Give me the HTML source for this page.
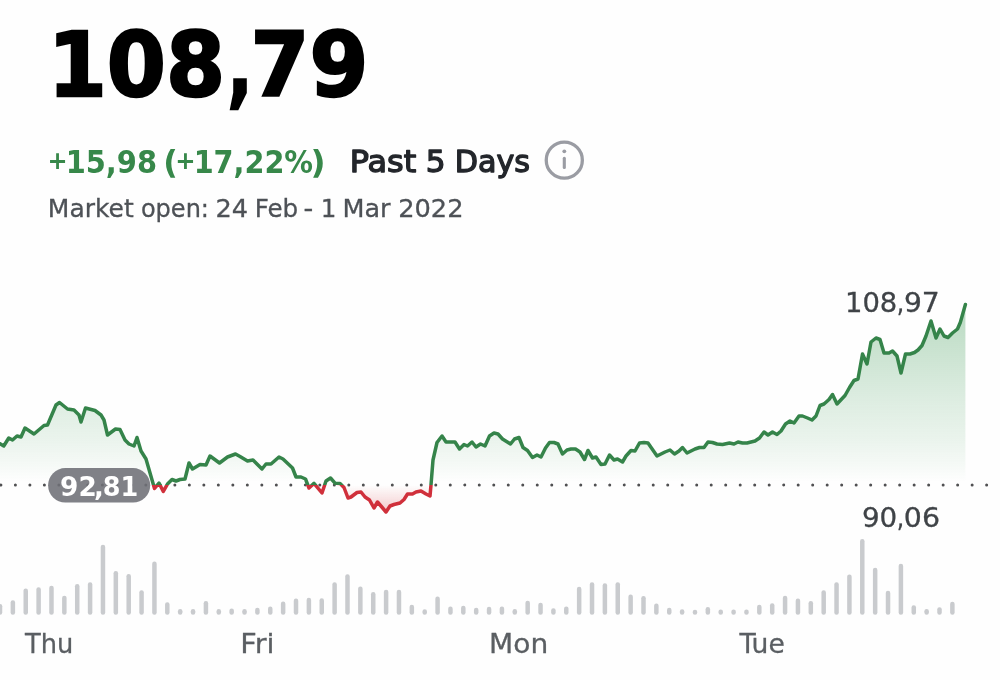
<!DOCTYPE html>
<html lang="en">
<head>
<meta charset="utf-8">
<title>108,79</title>
<style>
html,body{margin:0;padding:0;background:#fefefe;}
body{width:1000px;height:680px;overflow:hidden;position:relative;font-family:"DejaVu Sans","Liberation Sans",sans-serif;}
svg{position:absolute;left:0;top:0;display:block;filter:blur(0.45px);}
text{font-family:"DejaVu Sans","Liberation Sans",sans-serif;}
.price{font-weight:700;font-size:89.6px;fill:#000;stroke:#000;stroke-width:2.4px;stroke-linejoin:miter;}
.chg{font-weight:700;font-size:32px;fill:#37884a;}
.per{font-weight:400;font-size:30.6px;fill:#23262b;stroke:#23262b;stroke-width:1.35px;stroke-linejoin:round;}
.mkt{font-size:24.3px;fill:#4d5156;stroke:#4d5156;stroke-width:0.3px;}
.lbl{font-size:27.3px;fill:#3f4347;stroke:#3f4347;stroke-width:0.3px;}
.day{font-size:27px;fill:#5a5e62;stroke:#5a5e62;stroke-width:0.3px;}
.badge{font-weight:700;font-size:27.1px;fill:#fff;}
</style>
</head>
<body>
<svg width="1000" height="680" viewBox="0 0 1000 680">
<defs>
<linearGradient id="gup" gradientUnits="userSpaceOnUse" x1="0" y1="305" x2="0" y2="486">
<stop offset="0" stop-color="#37964f" stop-opacity="0.35"/>
<stop offset="0.52" stop-color="#37964f" stop-opacity="0.165"/>
<stop offset="0.74" stop-color="#37964f" stop-opacity="0.1"/>
<stop offset="0.88" stop-color="#37964f" stop-opacity="0.045"/>
<stop offset="0.975" stop-color="#37964f" stop-opacity="0"/>
</linearGradient>
<linearGradient id="gdn" gradientUnits="userSpaceOnUse" x1="0" y1="485" x2="0" y2="520">
<stop offset="0" stop-color="#d5343c" stop-opacity="0"/>
<stop offset="1" stop-color="#d5343c" stop-opacity="0.34"/>
</linearGradient>
<clipPath id="cup"><rect x="-10" y="0" width="1020" height="485.1"/></clipPath>
<clipPath id="cdn"><rect x="-10" y="485.1" width="1020" height="200"/></clipPath>
</defs>

<g id="header">
<text class="price" y="96.20"><tspan x="47.66" textLength="177.48" lengthAdjust="spacingAndGlyphs">108</tspan><tspan x="227.36" textLength="25.52" lengthAdjust="spacingAndGlyphs">,</tspan><tspan x="250.54" textLength="117.92" lengthAdjust="spacingAndGlyphs">79</tspan></text>
<text class="chg" y="173.00"><tspan x="47.43" y="169.10" font-size="25.6" textLength="20.11" lengthAdjust="spacingAndGlyphs">+</tspan><tspan x="65.66" y="173.00" textLength="91.32" lengthAdjust="spacingAndGlyphs">15,98</tspan> <tspan x="163.34" y="173.00" textLength="14.58" lengthAdjust="spacingAndGlyphs">(</tspan><tspan x="175.31" y="169.10" font-size="25.6" textLength="20.39" lengthAdjust="spacingAndGlyphs">+</tspan><tspan x="193.68" y="173.00" textLength="119.43" lengthAdjust="spacingAndGlyphs">17,22%</tspan><tspan x="310.52" y="173.00" textLength="15.08" lengthAdjust="spacingAndGlyphs">)</tspan></text>
<text class="per" y="172.40"><tspan x="349.66" textLength="66.49" lengthAdjust="spacingAndGlyphs">Past</tspan> <tspan x="425.78" textLength="19.81" lengthAdjust="spacingAndGlyphs">5</tspan> <tspan x="454.72" textLength="75.21" lengthAdjust="spacingAndGlyphs">Days</tspan></text>
<circle cx="564.3" cy="160.15" r="18.05" fill="none" stroke="#9a9ca3" stroke-width="3.3"/>
<circle cx="564.3" cy="151.3" r="1.9" fill="#9a9ca3"/>
<rect x="562.75" y="156.8" width="3.1" height="12.1" rx="1.5" fill="#9a9ca3"/>
<text class="mkt" y="217.20"><tspan x="47.83" textLength="85.86" lengthAdjust="spacingAndGlyphs">Market</tspan> <tspan x="140.89" textLength="68.09" lengthAdjust="spacingAndGlyphs">open:</tspan> <tspan x="215.40" textLength="32.57" lengthAdjust="spacingAndGlyphs">24</tspan> <tspan x="254.65" textLength="43.54" lengthAdjust="spacingAndGlyphs">Feb</tspan> <tspan x="303.57" textLength="9.73" lengthAdjust="spacingAndGlyphs">-</tspan> <tspan x="320.69" textLength="15.63" lengthAdjust="spacingAndGlyphs">1</tspan> <tspan x="342.53" textLength="48.06" lengthAdjust="spacingAndGlyphs">Mar</tspan> <tspan x="398.17" textLength="65.37" lengthAdjust="spacingAndGlyphs">2022</tspan></text>
</g>

<g id="chart">
<g clip-path="url(#cup)"><path d="M-2,485.0 L-2,443 L0,443.75 L3.75,446 L8.75,438 L12.5,440 L17,436 L21,437 L25,428 L34,434 L44,425.5 L47.5,425 L56,405 L59.5,402.5 L67.5,409 L74,410 L79,415 L81,422 L85.5,408 L95,410.5 L101,415 L104,420 L107.5,435 L115.5,429 L120,429.5 L125,440 L129,444 L134,446 L137,437.5 L141,451 L146,459 L154.5,488.5 L159,483 L163.3,491.5 L167.5,484 L172,479.5 L176,481 L180,479.5 L185,479 L189,463 L192.5,469 L200,464.5 L206,465 L210,456 L219.5,463 L227.5,457 L235.5,454 L240,456.5 L247.5,461 L253,460 L262,469 L266,464 L271,464 L279,457 L283,459 L292.5,468 L296,477 L301,477 L305.5,479 L309,488 L314,483.4 L322,493 L326,481 L330.5,478 L335,483.2 L340,483.4 L344,487.5 L348,498 L351,497 L357,492.5 L361,492 L365,497 L369.5,500 L374,508 L377.5,502 L386,512 L390,506 L394,504.5 L400,503 L404,499.5 L407.5,494 L412.5,494 L416,492 L421,491 L426,494 L430,496 L431,485 L433,460 L437,442.5 L442,436 L446,442 L455,442 L459.5,449 L464,444.5 L467.5,446 L472,442 L476,447 L480.5,444 L485,446 L489.5,436 L494,433 L498,434 L502.5,439 L510.5,444 L514.5,439 L519,437.5 L523,447.5 L527.5,450.5 L532.5,457.5 L537,455 L541,457 L545.5,448 L549.5,442.5 L554,442.5 L558,444 L562.5,454 L567,450 L571,449 L575.5,449 L580,452 L584.5,459.5 L588,450.5 L592.5,458 L596,457 L601,464.5 L605,464 L609.5,455 L614,460 L617.5,459 L622.5,462 L626,456 L631,450.5 L635,451 L639.5,443 L644,442.5 L648,443 L652.5,449.5 L657,456 L665,452 L670,450 L674.5,454 L679,451 L682.5,447.5 L687,453 L695,449 L699.5,447.5 L704,447.5 L708,442 L712.5,442.5 L717,444 L722.5,444.5 L729.5,443 L734,444 L738,442 L742.5,443 L747,443 L755,441 L759.5,438 L764,432 L768,435 L772.5,432 L777,434.5 L781,431 L785.5,424 L790,421 L794,423 L799,416 L802.5,416 L807.5,418 L812,420 L816,416 L820,405.5 L824,404 L829,399.5 L832.5,394.5 L837,404 L845,395.5 L849.5,387.5 L854,380.5 L858,379 L862.5,354 L867,364 L871,342 L876,338 L880,339.5 L884,353 L889,353 L892.5,351 L897,356 L901,373 L905.5,354 L910,354 L914.5,352.5 L918,350 L922,345.5 L926,336 L931,321 L936,338 L940,329 L944,336 L948,337.5 L952.5,333 L957.5,329 L960.3,322.5 L963,313 L965.4,304.5 L965.4,485.0 Z" fill="url(#gup)"/></g>
<g clip-path="url(#cdn)"><path d="M-2,485.0 L-2,443 L0,443.75 L3.75,446 L8.75,438 L12.5,440 L17,436 L21,437 L25,428 L34,434 L44,425.5 L47.5,425 L56,405 L59.5,402.5 L67.5,409 L74,410 L79,415 L81,422 L85.5,408 L95,410.5 L101,415 L104,420 L107.5,435 L115.5,429 L120,429.5 L125,440 L129,444 L134,446 L137,437.5 L141,451 L146,459 L154.5,488.5 L159,483 L163.3,491.5 L167.5,484 L172,479.5 L176,481 L180,479.5 L185,479 L189,463 L192.5,469 L200,464.5 L206,465 L210,456 L219.5,463 L227.5,457 L235.5,454 L240,456.5 L247.5,461 L253,460 L262,469 L266,464 L271,464 L279,457 L283,459 L292.5,468 L296,477 L301,477 L305.5,479 L309,488 L314,483.4 L322,493 L326,481 L330.5,478 L335,483.2 L340,483.4 L344,487.5 L348,498 L351,497 L357,492.5 L361,492 L365,497 L369.5,500 L374,508 L377.5,502 L386,512 L390,506 L394,504.5 L400,503 L404,499.5 L407.5,494 L412.5,494 L416,492 L421,491 L426,494 L430,496 L431,485 L433,460 L437,442.5 L442,436 L446,442 L455,442 L459.5,449 L464,444.5 L467.5,446 L472,442 L476,447 L480.5,444 L485,446 L489.5,436 L494,433 L498,434 L502.5,439 L510.5,444 L514.5,439 L519,437.5 L523,447.5 L527.5,450.5 L532.5,457.5 L537,455 L541,457 L545.5,448 L549.5,442.5 L554,442.5 L558,444 L562.5,454 L567,450 L571,449 L575.5,449 L580,452 L584.5,459.5 L588,450.5 L592.5,458 L596,457 L601,464.5 L605,464 L609.5,455 L614,460 L617.5,459 L622.5,462 L626,456 L631,450.5 L635,451 L639.5,443 L644,442.5 L648,443 L652.5,449.5 L657,456 L665,452 L670,450 L674.5,454 L679,451 L682.5,447.5 L687,453 L695,449 L699.5,447.5 L704,447.5 L708,442 L712.5,442.5 L717,444 L722.5,444.5 L729.5,443 L734,444 L738,442 L742.5,443 L747,443 L755,441 L759.5,438 L764,432 L768,435 L772.5,432 L777,434.5 L781,431 L785.5,424 L790,421 L794,423 L799,416 L802.5,416 L807.5,418 L812,420 L816,416 L820,405.5 L824,404 L829,399.5 L832.5,394.5 L837,404 L845,395.5 L849.5,387.5 L854,380.5 L858,379 L862.5,354 L867,364 L871,342 L876,338 L880,339.5 L884,353 L889,353 L892.5,351 L897,356 L901,373 L905.5,354 L910,354 L914.5,352.5 L918,350 L922,345.5 L926,336 L931,321 L936,338 L940,329 L944,336 L948,337.5 L952.5,333 L957.5,329 L960.3,322.5 L963,313 L965.4,304.5 L965.4,485.0 Z" fill="url(#gdn)"/></g>
<line x1="0.9" y1="485.1" x2="1000" y2="485.0" stroke="#505052" stroke-width="3.0" stroke-linecap="round" stroke-dasharray="0.01 14.486"/>
<g clip-path="url(#cup)"><polyline points="-2,443 0,443.75 3.75,446 8.75,438 12.5,440 17,436 21,437 25,428 34,434 44,425.5 47.5,425 56,405 59.5,402.5 67.5,409 74,410 79,415 81,422 85.5,408 95,410.5 101,415 104,420 107.5,435 115.5,429 120,429.5 125,440 129,444 134,446 137,437.5 141,451 146,459 154.5,488.5 159,483 163.3,491.5 167.5,484 172,479.5 176,481 180,479.5 185,479 189,463 192.5,469 200,464.5 206,465 210,456 219.5,463 227.5,457 235.5,454 240,456.5 247.5,461 253,460 262,469 266,464 271,464 279,457 283,459 292.5,468 296,477 301,477 305.5,479 309,488 314,483.4 322,493 326,481 330.5,478 335,483.2 340,483.4 344,487.5 348,498 351,497 357,492.5 361,492 365,497 369.5,500 374,508 377.5,502 386,512 390,506 394,504.5 400,503 404,499.5 407.5,494 412.5,494 416,492 421,491 426,494 430,496 431,485 433,460 437,442.5 442,436 446,442 455,442 459.5,449 464,444.5 467.5,446 472,442 476,447 480.5,444 485,446 489.5,436 494,433 498,434 502.5,439 510.5,444 514.5,439 519,437.5 523,447.5 527.5,450.5 532.5,457.5 537,455 541,457 545.5,448 549.5,442.5 554,442.5 558,444 562.5,454 567,450 571,449 575.5,449 580,452 584.5,459.5 588,450.5 592.5,458 596,457 601,464.5 605,464 609.5,455 614,460 617.5,459 622.5,462 626,456 631,450.5 635,451 639.5,443 644,442.5 648,443 652.5,449.5 657,456 665,452 670,450 674.5,454 679,451 682.5,447.5 687,453 695,449 699.5,447.5 704,447.5 708,442 712.5,442.5 717,444 722.5,444.5 729.5,443 734,444 738,442 742.5,443 747,443 755,441 759.5,438 764,432 768,435 772.5,432 777,434.5 781,431 785.5,424 790,421 794,423 799,416 802.5,416 807.5,418 812,420 816,416 820,405.5 824,404 829,399.5 832.5,394.5 837,404 845,395.5 849.5,387.5 854,380.5 858,379 862.5,354 867,364 871,342 876,338 880,339.5 884,353 889,353 892.5,351 897,356 901,373 905.5,354 910,354 914.5,352.5 918,350 922,345.5 926,336 931,321 936,338 940,329 944,336 948,337.5 952.5,333 957.5,329 960.3,322.5 963,313 965.4,304.5" fill="none" stroke="#35844a" stroke-width="3.5" stroke-linejoin="round" stroke-linecap="round"/></g>
<g clip-path="url(#cdn)"><polyline points="-2,443 0,443.75 3.75,446 8.75,438 12.5,440 17,436 21,437 25,428 34,434 44,425.5 47.5,425 56,405 59.5,402.5 67.5,409 74,410 79,415 81,422 85.5,408 95,410.5 101,415 104,420 107.5,435 115.5,429 120,429.5 125,440 129,444 134,446 137,437.5 141,451 146,459 154.5,488.5 159,483 163.3,491.5 167.5,484 172,479.5 176,481 180,479.5 185,479 189,463 192.5,469 200,464.5 206,465 210,456 219.5,463 227.5,457 235.5,454 240,456.5 247.5,461 253,460 262,469 266,464 271,464 279,457 283,459 292.5,468 296,477 301,477 305.5,479 309,488 314,483.4 322,493 326,481 330.5,478 335,483.2 340,483.4 344,487.5 348,498 351,497 357,492.5 361,492 365,497 369.5,500 374,508 377.5,502 386,512 390,506 394,504.5 400,503 404,499.5 407.5,494 412.5,494 416,492 421,491 426,494 430,496 431,485 433,460 437,442.5 442,436 446,442 455,442 459.5,449 464,444.5 467.5,446 472,442 476,447 480.5,444 485,446 489.5,436 494,433 498,434 502.5,439 510.5,444 514.5,439 519,437.5 523,447.5 527.5,450.5 532.5,457.5 537,455 541,457 545.5,448 549.5,442.5 554,442.5 558,444 562.5,454 567,450 571,449 575.5,449 580,452 584.5,459.5 588,450.5 592.5,458 596,457 601,464.5 605,464 609.5,455 614,460 617.5,459 622.5,462 626,456 631,450.5 635,451 639.5,443 644,442.5 648,443 652.5,449.5 657,456 665,452 670,450 674.5,454 679,451 682.5,447.5 687,453 695,449 699.5,447.5 704,447.5 708,442 712.5,442.5 717,444 722.5,444.5 729.5,443 734,444 738,442 742.5,443 747,443 755,441 759.5,438 764,432 768,435 772.5,432 777,434.5 781,431 785.5,424 790,421 794,423 799,416 802.5,416 807.5,418 812,420 816,416 820,405.5 824,404 829,399.5 832.5,394.5 837,404 845,395.5 849.5,387.5 854,380.5 858,379 862.5,354 867,364 871,342 876,338 880,339.5 884,353 889,353 892.5,351 897,356 901,373 905.5,354 910,354 914.5,352.5 918,350 922,345.5 926,336 931,321 936,338 940,329 944,336 948,337.5 952.5,333 957.5,329 960.3,322.5 963,313 965.4,304.5" fill="none" stroke="#d0303b" stroke-width="3.5" stroke-linejoin="round" stroke-linecap="round"/></g>
<rect x="48.1" y="468.1" width="102.1" height="34.4" rx="17.2" fill="#6e7076" fill-opacity="0.88"/>
<text class="badge" y="496.10"><tspan x="60.11" textLength="36.64" lengthAdjust="spacingAndGlyphs">92</tspan><tspan x="94.01" textLength="9.78" lengthAdjust="spacingAndGlyphs">,</tspan><tspan x="102.71" textLength="35.52" lengthAdjust="spacingAndGlyphs">81</tspan></text>
<text class="lbl" y="311.90"><tspan x="844.98" textLength="52.34" lengthAdjust="spacingAndGlyphs">108</tspan><tspan x="896.77" textLength="7.45" lengthAdjust="spacingAndGlyphs">,</tspan><tspan x="903.91" textLength="35.82" lengthAdjust="spacingAndGlyphs">97</tspan></text>
<text class="lbl" y="527.00"><tspan x="861.91" textLength="35.36" lengthAdjust="spacingAndGlyphs">90</tspan><tspan x="896.77" textLength="7.45" lengthAdjust="spacingAndGlyphs">,</tspan><tspan x="903.88" textLength="36.17" lengthAdjust="spacingAndGlyphs">06</tspan></text>
</g>

<g id="volume" fill="#c9cbce">
<rect x="-2.25" y="604.05" width="4.5" height="10.75" rx="2.2"/>
<rect x="10.62" y="600.30" width="4.5" height="14.50" rx="2.2"/>
<rect x="23.49" y="588.55" width="4.5" height="26.25" rx="2.2"/>
<rect x="36.36" y="587.30" width="4.5" height="27.50" rx="2.2"/>
<rect x="49.23" y="585.80" width="4.5" height="29.00" rx="2.2"/>
<rect x="62.10" y="595.80" width="4.5" height="19.00" rx="2.2"/>
<rect x="74.97" y="584.05" width="4.5" height="30.75" rx="2.2"/>
<rect x="87.84" y="582.30" width="4.5" height="32.50" rx="2.2"/>
<rect x="100.71" y="544.80" width="4.5" height="70.00" rx="2.2"/>
<rect x="113.58" y="571.05" width="4.5" height="43.75" rx="2.2"/>
<rect x="126.45" y="574.05" width="4.5" height="40.75" rx="2.2"/>
<rect x="139.32" y="590.30" width="4.5" height="24.50" rx="2.2"/>
<rect x="152.19" y="561.55" width="4.5" height="53.25" rx="2.2"/>
<rect x="165.06" y="602.30" width="4.5" height="12.50" rx="2.2"/>
<rect x="177.93" y="609.05" width="4.5" height="5.75" rx="2.2"/>
<rect x="190.80" y="609.05" width="4.5" height="5.75" rx="2.2"/>
<rect x="203.67" y="601.05" width="4.5" height="13.75" rx="2.2"/>
<rect x="216.54" y="609.05" width="4.5" height="5.75" rx="2.2"/>
<rect x="229.41" y="608.55" width="4.5" height="6.25" rx="2.2"/>
<rect x="242.28" y="609.05" width="4.5" height="5.75" rx="2.2"/>
<rect x="255.15" y="607.80" width="4.5" height="7.00" rx="2.2"/>
<rect x="268.02" y="606.55" width="4.5" height="8.25" rx="2.2"/>
<rect x="280.89" y="601.55" width="4.5" height="13.25" rx="2.2"/>
<rect x="293.76" y="598.55" width="4.5" height="16.25" rx="2.2"/>
<rect x="306.63" y="597.80" width="4.5" height="17.00" rx="2.2"/>
<rect x="319.50" y="598.30" width="4.5" height="16.50" rx="2.2"/>
<rect x="332.37" y="582.30" width="4.5" height="32.50" rx="2.2"/>
<rect x="345.24" y="574.30" width="4.5" height="40.50" rx="2.2"/>
<rect x="358.11" y="586.55" width="4.5" height="28.25" rx="2.2"/>
<rect x="370.98" y="592.05" width="4.5" height="22.75" rx="2.2"/>
<rect x="383.85" y="589.80" width="4.5" height="25.00" rx="2.2"/>
<rect x="396.72" y="589.80" width="4.5" height="25.00" rx="2.2"/>
<rect x="409.59" y="604.80" width="4.5" height="10.00" rx="2.2"/>
<rect x="422.46" y="609.30" width="4.5" height="5.50" rx="2.2"/>
<rect x="435.33" y="596.55" width="4.5" height="18.25" rx="2.2"/>
<rect x="448.20" y="606.55" width="4.5" height="8.25" rx="2.2"/>
<rect x="461.07" y="605.80" width="4.5" height="9.00" rx="2.2"/>
<rect x="473.94" y="607.80" width="4.5" height="7.00" rx="2.2"/>
<rect x="486.81" y="606.80" width="4.5" height="8.00" rx="2.2"/>
<rect x="499.68" y="606.55" width="4.5" height="8.25" rx="2.2"/>
<rect x="512.55" y="609.05" width="4.5" height="5.75" rx="2.2"/>
<rect x="525.42" y="600.80" width="4.5" height="14.00" rx="2.2"/>
<rect x="538.29" y="602.80" width="4.5" height="12.00" rx="2.2"/>
<rect x="551.16" y="608.30" width="4.5" height="6.50" rx="2.2"/>
<rect x="564.03" y="606.55" width="4.5" height="8.25" rx="2.2"/>
<rect x="576.90" y="586.80" width="4.5" height="28.00" rx="2.2"/>
<rect x="589.77" y="582.30" width="4.5" height="32.50" rx="2.2"/>
<rect x="602.64" y="583.30" width="4.5" height="31.50" rx="2.2"/>
<rect x="615.51" y="582.30" width="4.5" height="32.50" rx="2.2"/>
<rect x="628.38" y="594.55" width="4.5" height="20.25" rx="2.2"/>
<rect x="641.25" y="596.05" width="4.5" height="18.75" rx="2.2"/>
<rect x="654.12" y="603.55" width="4.5" height="11.25" rx="2.2"/>
<rect x="666.99" y="607.80" width="4.5" height="7.00" rx="2.2"/>
<rect x="679.86" y="609.30" width="4.5" height="5.50" rx="2.2"/>
<rect x="692.73" y="609.80" width="4.5" height="5.00" rx="2.2"/>
<rect x="705.60" y="607.05" width="4.5" height="7.75" rx="2.2"/>
<rect x="718.47" y="609.55" width="4.5" height="5.25" rx="2.2"/>
<rect x="731.34" y="609.55" width="4.5" height="5.25" rx="2.2"/>
<rect x="744.21" y="609.55" width="4.5" height="5.25" rx="2.2"/>
<rect x="757.08" y="604.80" width="4.5" height="10.00" rx="2.2"/>
<rect x="769.95" y="603.30" width="4.5" height="11.50" rx="2.2"/>
<rect x="782.82" y="595.80" width="4.5" height="19.00" rx="2.2"/>
<rect x="795.69" y="598.55" width="4.5" height="16.25" rx="2.2"/>
<rect x="808.56" y="601.05" width="4.5" height="13.75" rx="2.2"/>
<rect x="821.43" y="590.30" width="4.5" height="24.50" rx="2.2"/>
<rect x="834.30" y="582.30" width="4.5" height="32.50" rx="2.2"/>
<rect x="847.17" y="574.55" width="4.5" height="40.25" rx="2.2"/>
<rect x="860.04" y="539.05" width="4.5" height="75.75" rx="2.2"/>
<rect x="872.91" y="567.80" width="4.5" height="47.00" rx="2.2"/>
<rect x="885.78" y="590.80" width="4.5" height="24.00" rx="2.2"/>
<rect x="898.65" y="563.80" width="4.5" height="51.00" rx="2.2"/>
<rect x="911.52" y="605.30" width="4.5" height="9.50" rx="2.2"/>
<rect x="924.39" y="609.05" width="4.5" height="5.75" rx="2.2"/>
<rect x="937.26" y="607.30" width="4.5" height="7.50" rx="2.2"/>
<rect x="950.13" y="601.80" width="4.5" height="13.00" rx="2.2"/>
</g>

<g id="days">
<text class="day" x="24.97" y="653.00" textLength="48.33" lengthAdjust="spacingAndGlyphs">Thu</text>
<text class="day" x="240.28" y="653.00" textLength="34.22" lengthAdjust="spacingAndGlyphs">Fri</text>
<text class="day" x="489.00" y="653.00" textLength="59.18" lengthAdjust="spacingAndGlyphs">Mon</text>
<text class="day" x="739.39" y="653.00" textLength="45.45" lengthAdjust="spacingAndGlyphs">Tue</text>
</g>
</svg>
</body>
</html>
